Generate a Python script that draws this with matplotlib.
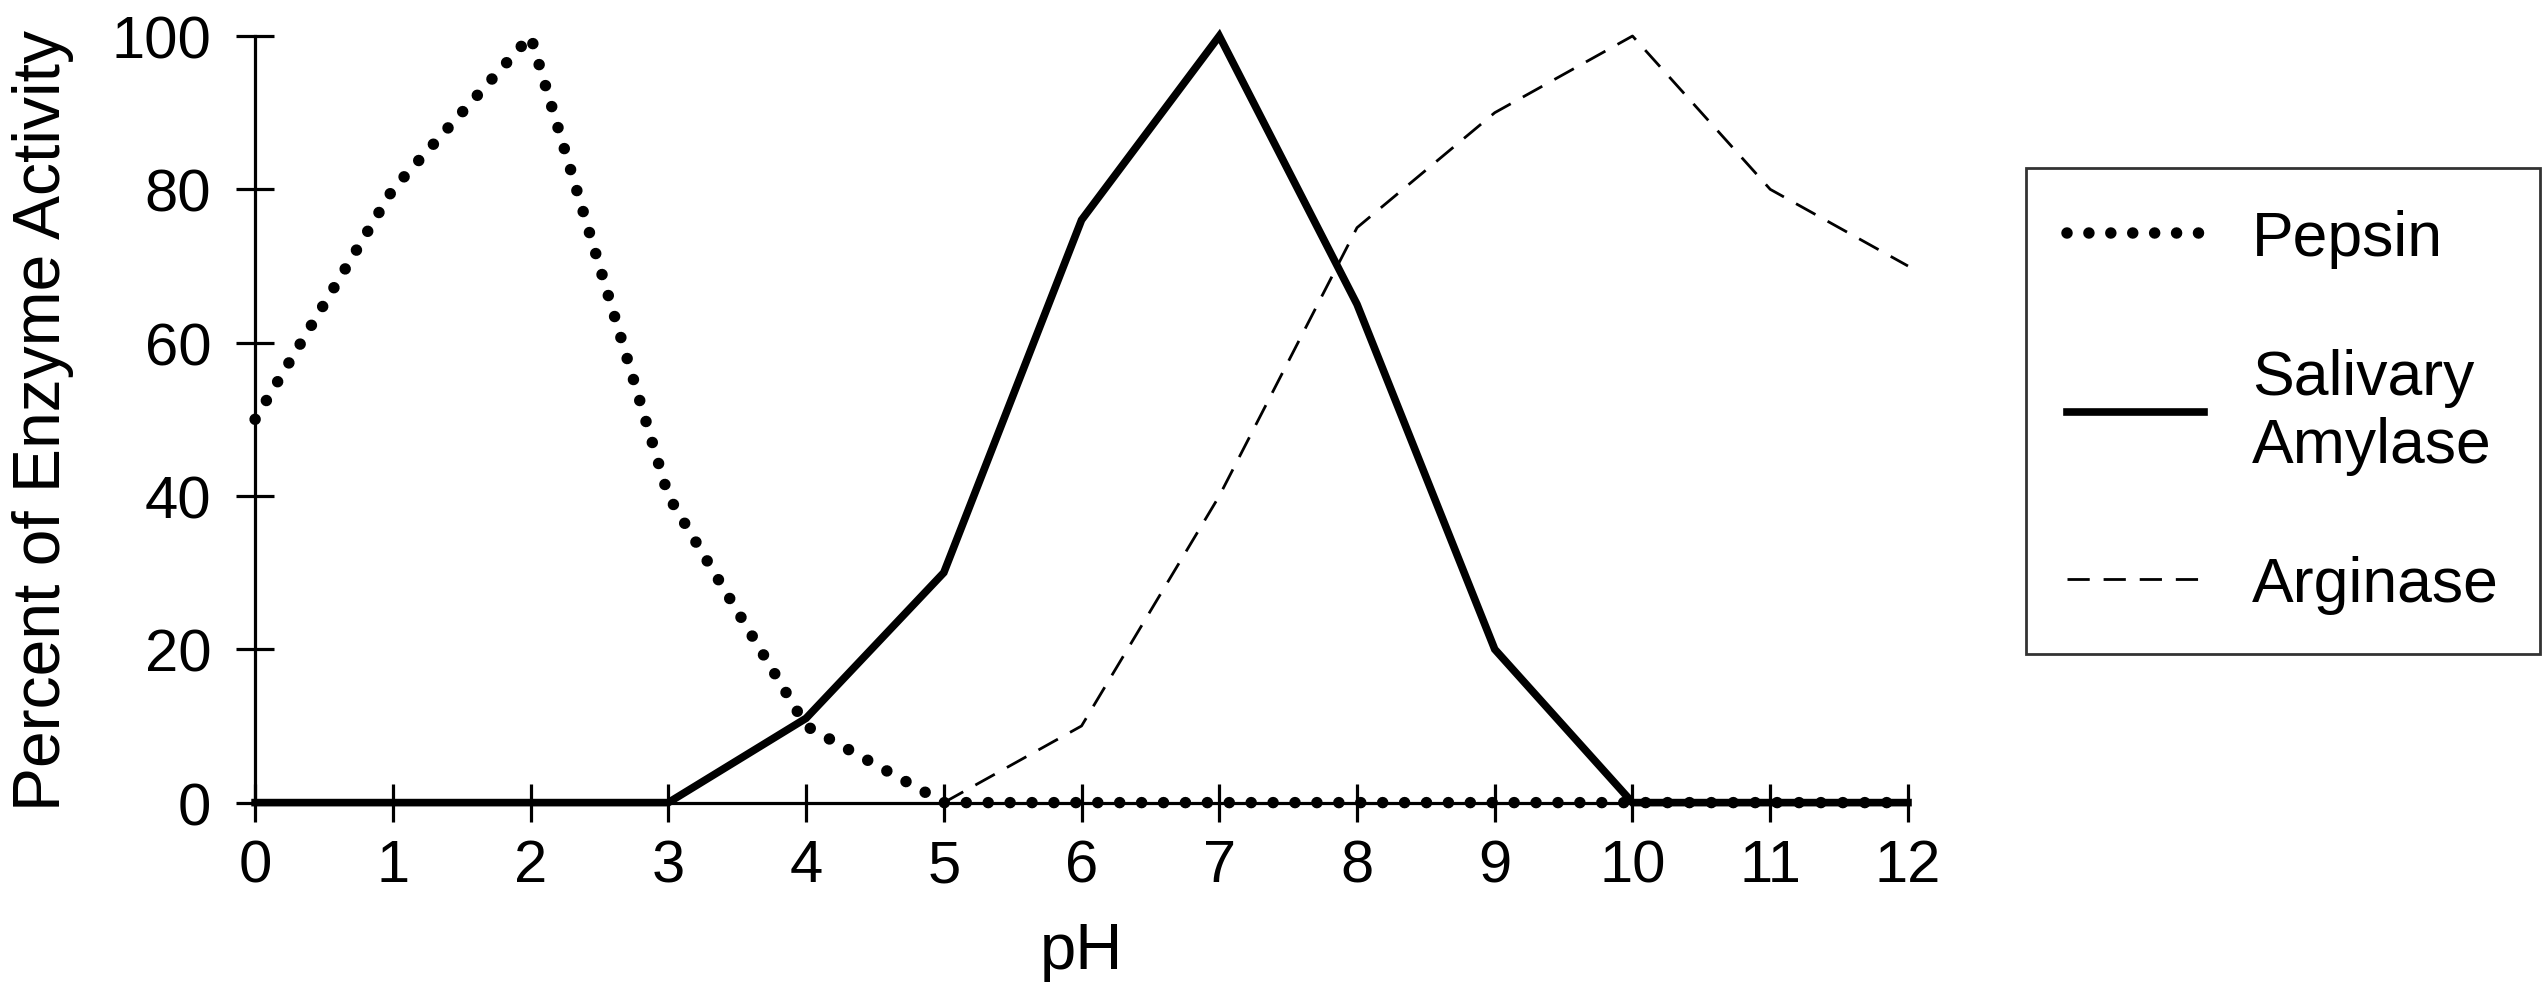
import matplotlib
matplotlib.use('Agg')
import matplotlib.pyplot as plt

## data
ph = [0, 1, 2, 3, 4, 5, 6, 7, 8, 9, 10, 11, 12]
pepsin = [50, 80, 100, 40, 10, 0, 0, 0, 0, 0, 0, 0, 0]
amylase = [0, 0, 0, 0, 11, 30, 76, 100, 65, 20, 0, 0, 0]
ph_arg = [5, 6, 7, 8, 9, 10, 11, 12]
arginase = [0, 10, 40, 75, 90, 100, 80, 70]

xticks = list(range(0, 13))
yticks = [0, 20, 40, 60, 80, 100]

plt.rcParams['font.family'] = ['Liberation Sans', 'DejaVu Sans']

fig = plt.figure(figsize=(25.46, 9.87), dpi=100)
ax = fig.add_axes([0.1002, 0.1858, 0.6492, 0.7767])

ax.plot(ph, pepsin, color='black', lw=8.3, linestyle=(0, (0.001, 1.9)),
        dash_capstyle='round', clip_on=False, label='Pepsin', zorder=3)
ax.plot(ph, amylase, color='black', lw=5.5, solid_joinstyle='miter',
        clip_on=False, label='Salivary\nAmylase', zorder=3)
ax.plot(ph_arg, arginase, color='black', lw=2, linestyle=(0, (8, 5)),
        clip_on=False, label='Arginase', zorder=3)

ax.set_xlim(0, 12)
ax.set_ylim(0, 100)
ax.set_xticks(xticks)
ax.set_yticks(yticks)
for s in ['top', 'right']:
    ax.spines[s].set_visible(False)
for s in ['left', 'bottom']:
    ax.spines[s].set_linewidth(2.3)
ax.tick_params(direction='inout', length=27, width=2.3, labelsize=43, pad=18)
ax.tick_params(axis='x', pad=12)

ax.set_xlabel('pH', fontsize=47, labelpad=20)
ax.set_ylabel('Percent of Enzyme Activity', fontsize=47.5, labelpad=27)

leg = fig.legend(loc='upper left', bbox_to_anchor=(2026 / 2546, 1 - 169 / 987),
                 borderaxespad=0, fontsize=45, frameon=True, fancybox=False,
                 edgecolor='black', handlelength=2.2, handletextpad=0.77,
                 borderpad=0.65, labelspacing=1.28)
leg.get_frame().set_linewidth(2)

fig.savefig('out.png', dpi=100)
